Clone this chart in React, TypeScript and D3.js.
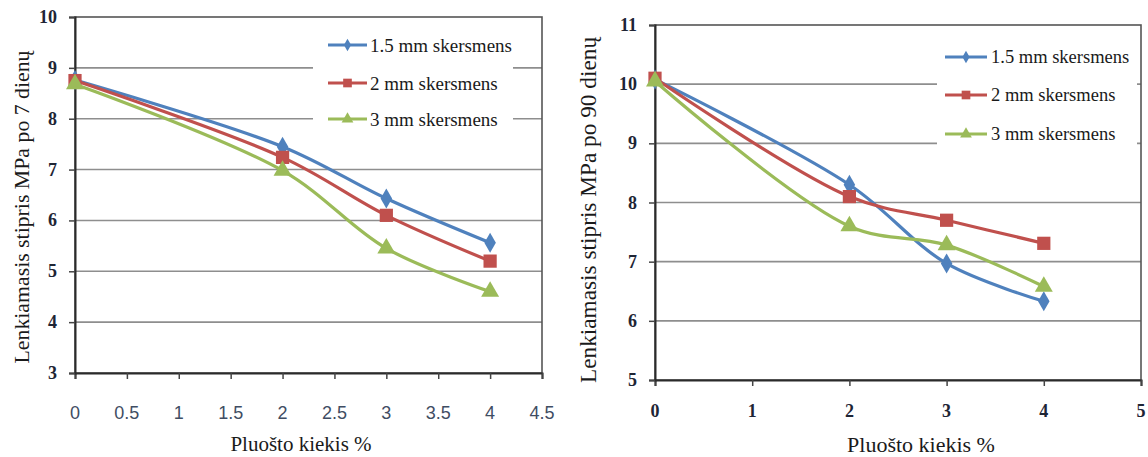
import React, { useEffect, useRef } from 'react';
import * as d3 from 'd3';

// fibre content, %
const fibreAmount = [0, 2, 3, 4];
const seriesNames = ['1.5 mm skersmens', '2 mm skersmens', '3 mm skersmens'];
const seriesColors = ['#4f81bd', '#c0504d', '#9bbb59'];

// flexural strength after 7 days, MPa
const day7_15mm = [8.76, 7.45, 6.43, 5.56];
const day7_2mm = [8.75, 7.24, 6.1, 5.2];
const day7_3mm = [8.68, 6.98, 5.45, 4.6];

// flexural strength after 90 days, MPa
const day90_15mm = [10.08, 8.3, 6.97, 6.33];
const day90_2mm = [10.1, 8.1, 7.7, 7.31];
const day90_3mm = [10.05, 7.6, 7.28, 6.58];

const leftXTicks = [0, 0.5, 1, 1.5, 2, 2.5, 3, 3.5, 4, 4.5];
const leftYTicks = [3, 4, 5, 6, 7, 8, 9, 10];
const rightXTicks = [0, 1, 2, 3, 4, 5];
const rightYTicks = [5, 6, 7, 8, 9, 10, 11];

const xTitle = 'Pluošto kiekis %';
const leftYTitle = 'Lenkiamasis stipris MPa po 7 dienų';
const rightYTitle = 'Lenkiamasis stipris MPa po 90 dienų';

const serif = '"Liberation Serif"';
const sans = '"Liberation Sans"';

const symbols = [d3.symbolDiamond, d3.symbolSquare, d3.symbolTriangle];
const markerSize = [115, 175, 140];
const legendMarkerSize = [45, 75, 60];

function drawChart(svg, cfg) {
  const x = d3.scaleLinear().domain(cfg.xDomain).range([cfg.left, cfg.right]);
  const y = d3.scaleLinear().domain(cfg.yDomain).range([cfg.bottom, cfg.top]);
  const g = svg.append('g');

  // gridlines
  g.selectAll('.grid')
    .data(cfg.yTicks.slice(1, -1))
    .enter()
    .append('line')
    .attr('x1', cfg.left)
    .attr('x2', cfg.right)
    .attr('y1', (d) => y(d))
    .attr('y2', (d) => y(d))
    .attr('stroke', '#8e8e8e')
    .attr('stroke-width', 1.6);

  // frame
  g.append('rect')
    .attr('x', cfg.left)
    .attr('y', cfg.top)
    .attr('width', cfg.right - cfg.left)
    .attr('height', cfg.bottom - cfg.top)
    .attr('fill', 'none')
    .attr('stroke', '#555')
    .attr('stroke-width', 1.6);

  // legend background hides grid behind it
  g.append('rect')
    .attr('x', cfg.legend.x)
    .attr('y', cfg.legend.y)
    .attr('width', cfg.legend.w)
    .attr('height', cfg.legend.h)
    .attr('fill', '#fff');

  // axes
  const xAxis = d3.axisBottom(x).tickValues(cfg.xTicks).tickSize(6).tickFormat(() => '');
  const yAxis = d3.axisLeft(y).tickValues(cfg.yTicks).tickSize(6).tickFormat(() => '');
  const xa = g.append('g').attr('transform', `translate(0,${cfg.bottom})`).call(xAxis);
  const ya = g.append('g').attr('transform', `translate(${cfg.left},0)`).call(yAxis);
  [xa, ya].forEach((a) => {
    a.select('.domain').attr('stroke', '#2b2b2b').attr('stroke-width', 2);
    a.selectAll('.tick line').attr('stroke', '#444').attr('stroke-width', 1.5);
  });

  // tick labels
  g.selectAll('.xl')
    .data(cfg.xTicks)
    .enter()
    .append('text')
    .attr('x', (d) => x(d))
    .attr('y', cfg.xLabelY)
    .attr('text-anchor', 'middle')
    .attr('dominant-baseline', 'central')
    .style('font-family', cfg.xLabelFont)
    .style('font-weight', cfg.xLabelWeight)
    .style('font-size', `${cfg.xLabelSize}px`)
    .attr('fill', cfg.xLabelColor)
    .text((d) => String(d));

  g.selectAll('.yl')
    .data(cfg.yTicks)
    .enter()
    .append('text')
    .attr('x', cfg.left - 18)
    .attr('y', (d) => y(d))
    .attr('text-anchor', 'end')
    .attr('dominant-baseline', 'central')
    .style('font-family', serif)
    .style('font-weight', 'bold')
    .style('font-size', '18px')
    .attr('fill', '#1e2535')
    .text((d) => String(d));

  // titles
  g.append('text')
    .attr('x', cfg.xTitle[0])
    .attr('y', cfg.xTitle[1])
    .attr('text-anchor', 'middle')
    .attr('dominant-baseline', 'central')
    .style('font-family', serif)
    .style('font-size', `${cfg.xTitleSize}px`)
    .attr('fill', '#1a1a1a')
    .text(xTitle);

  g.append('text')
    .attr('transform', `translate(${cfg.yTitle[0]},${cfg.yTitle[1]}) rotate(-90)`)
    .attr('text-anchor', 'middle')
    .attr('dominant-baseline', 'central')
    .style('font-family', serif)
    .style('font-size', `${cfg.yTitleSize}px`)
    .attr('fill', '#1a1a1a')
    .text(cfg.yTitleText);

  // lines
  const line = d3
    .line()
    .x((d) => x(d[0]))
    .y((d) => y(d[1]))
    .curve(d3.curveCatmullRom.alpha(0.5));

  cfg.series.forEach((vals, i) => {
    const pts = fibreAmount.map((f, j) => [f, vals[j]]);
    g.append('path')
      .attr('d', line(pts))
      .attr('fill', 'none')
      .attr('stroke', seriesColors[i])
      .attr('stroke-width', 3.2);
    g.selectAll(`.m${i}`)
      .data(pts)
      .enter()
      .append('path')
      .attr('transform', (d) => `translate(${x(d[0])},${y(d[1])})`)
      .attr('d', d3.symbol().type(symbols[i]).size(markerSize[i])())
      .attr('fill', seriesColors[i]);
  });

  // legend
  const lg = cfg.legend;
  seriesNames.forEach((name, i) => {
    const ry = lg.rows[i];
    g.append('line')
      .attr('x1', lg.lineX[0])
      .attr('x2', lg.lineX[1])
      .attr('y1', ry)
      .attr('y2', ry)
      .attr('stroke', seriesColors[i])
      .attr('stroke-width', 3.2);
    g.append('path')
      .attr('transform', `translate(${(lg.lineX[0] + lg.lineX[1]) / 2},${ry})`)
      .attr('d', d3.symbol().type(symbols[i]).size(legendMarkerSize[i])())
      .attr('fill', seriesColors[i]);
    g.append('text')
      .attr('x', lg.textX)
      .attr('y', ry)
      .attr('dominant-baseline', 'central')
      .style('font-family', serif)
      .style('font-size', `${lg.fontSize}px`)
      .attr('fill', '#1a1a1a')
      .text(name);
  });
}

export default function App() {
  const ref = useRef(null);

  useEffect(() => {
    const svg = d3.select(ref.current);
    svg.selectAll('*').remove();

    drawChart(svg, {
      left: 75,
      right: 542,
      top: 17,
      bottom: 373,
      xDomain: [0, 4.5],
      yDomain: [3, 10],
      xTicks: leftXTicks,
      yTicks: leftYTicks,
      xLabelY: 413,
      xLabelFont: sans,
      xLabelWeight: 'normal',
      xLabelSize: 18,
      xLabelColor: '#3f4d63',
      xTitleSize: 21,
      yTitleSize: 21.8,
      xTitle: [301, 444],
      yTitle: [22, 207],
      yTitleText: leftYTitle,
      series: [day7_15mm, day7_2mm, day7_3mm],
      legend: { x: 313, y: 28, w: 200, h: 104, lineX: [328, 367], textX: 370, rows: [45, 83, 119], fontSize: 19 },
    });

    drawChart(svg, {
      left: 655,
      right: 1141,
      top: 25,
      bottom: 380,
      xDomain: [0, 5],
      yDomain: [5, 11],
      xTicks: rightXTicks,
      yTicks: rightYTicks,
      xLabelY: 411,
      xLabelFont: serif,
      xLabelWeight: 'bold',
      xLabelSize: 18,
      xLabelColor: '#1e2535',
      xTitleSize: 22,
      yTitleSize: 23.3,
      xTitle: [921, 444],
      yTitle: [588, 210],
      yTitleText: rightYTitle,
      series: [day90_15mm, day90_2mm, day90_3mm],
      legend: { x: 937, y: 38, w: 200, h: 112, lineX: [945, 987], textX: 991, rows: [57, 95, 134], fontSize: 18.5 },
    });
  }, []);

  return (
    <svg
      ref={ref}
      width={1148}
      height={457}
      style={{ position: 'absolute', left: 0, top: 0, background: '#fff' }}
    />
  );
}
